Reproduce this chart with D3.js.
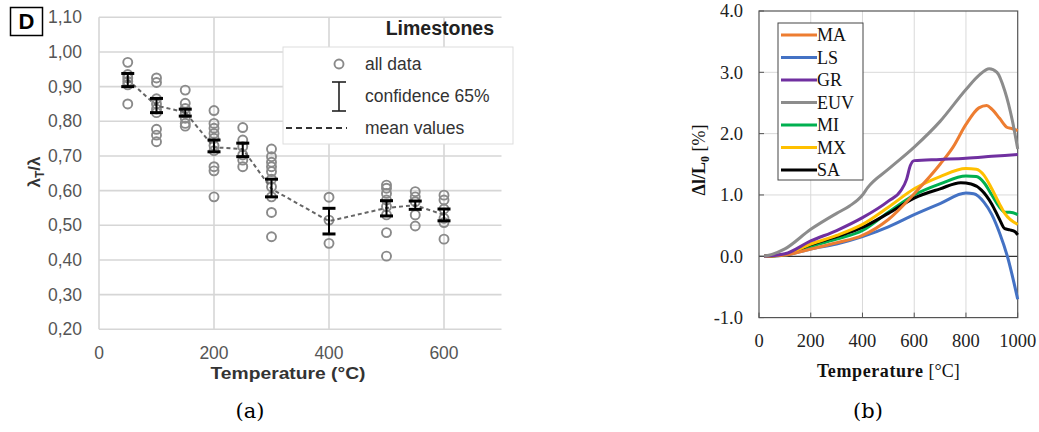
<!DOCTYPE html>
<html><head><meta charset="utf-8">
<script src="https://cdn.jsdelivr.net/npm/d3@7"></script>
<style>body{margin:0;background:#fff}svg{display:block}</style>
</head><body>
<svg id="c" width="1039" height="432"></svg>
<script>
// ---------- Panel (a) data ----------
const tempsA = [50,100,150,200,250,300,400,500,550,600];
const meanA = [0.92,0.845,0.826,0.725,0.72,0.605,0.512,0.55,0.558,0.53];
const ciLowA = [0.900,0.825,0.815,0.712,0.698,0.582,0.475,0.527,0.546,0.513];
const ciHighA = [0.938,0.866,0.835,0.746,0.737,0.633,0.549,0.571,0.570,0.547];
const pts50 = [0.97,0.935,0.925,0.915,0.905,0.85];
const pts100 = [0.925,0.912,0.865,0.85,0.835,0.825,0.777,0.76,0.741];
const pts150 = [0.89,0.852,0.837,0.823,0.809,0.794,0.786];
const pts200 = [0.831,0.794,0.78,0.765,0.751,0.73,0.715,0.669,0.657,0.582];
const pts250 = [0.782,0.746,0.727,0.703,0.688,0.669];
const pts300 = [0.72,0.698,0.682,0.669,0.655,0.633,0.611,0.582,0.537,0.467];
const pts400 = [0.581,0.515,0.448];
const pts500 = [0.616,0.607,0.592,0.573,0.554,0.53,0.479,0.411];
const pts550 = [0.597,0.582,0.568,0.53,0.498];
const pts600 = [0.587,0.573,0.547,0.52,0.508,0.46];
const allPtsA = [pts50,pts100,pts150,pts200,pts250,pts300,pts400,pts500,pts550,pts600];
const yTicksA = [0.2,0.3,0.4,0.5,0.6,0.7,0.8,0.9,1.0,1.1];
const xTicksA = [0,200,400,600];

// ---------- Panel (b) data ----------
const seriesNamesB = ["MA","LS","GR","EUV","MI","MX","SA"];
const seriesColorsB = ["#ed7d31","#4472c4","#7030a0","#8c8c8c","#00b050","#ffc000","#000000"];
const tempMA = [20,100,200,300,400,500,600,700,750,800,850,880,900,930,960,980,1000];
const valMA  = [0,0.02,0.12,0.22,0.34,0.6,1.02,1.5,1.78,2.15,2.42,2.46,2.4,2.25,2.1,2.08,2.05];
const tempLS = [20,100,200,300,400,500,600,700,800,830,870,900,930,960,1000];
const valLS  = [0,0.02,0.12,0.2,0.32,0.48,0.68,0.86,1.03,1.02,0.88,0.68,0.38,0.0,-0.7];
const tempGR = [20,100,200,300,400,500,550,570,585,600,700,800,900,1000];
const valGR  = [0,0.04,0.25,0.42,0.63,0.9,1.08,1.25,1.48,1.56,1.58,1.6,1.63,1.66];
const tempEUV = [20,50,100,200,300,350,400,420,500,600,700,800,850,890,920,950,980,1000];
const valEUV  = [0,0.03,0.12,0.44,0.7,0.82,1.0,1.12,1.42,1.78,2.2,2.72,2.95,3.06,3.0,2.7,2.2,1.75];
const tempMI = [20,100,200,300,400,500,600,700,800,840,870,900,930,950,970,1000];
const valMI  = [0,0.02,0.16,0.28,0.42,0.72,1.0,1.18,1.31,1.3,1.2,1.0,0.8,0.72,0.72,0.68];
const tempMX = [20,100,200,300,400,500,600,700,800,840,870,900,930,950,1000];
const valMX  = [0,0.03,0.2,0.34,0.52,0.8,1.1,1.3,1.43,1.42,1.32,1.1,0.85,0.7,0.52];
const tempSA = [20,100,200,300,400,500,600,700,780,820,860,900,930,950,970,990,1000];
const valSA  = [0,0.03,0.19,0.32,0.47,0.7,0.95,1.1,1.2,1.18,1.08,0.85,0.6,0.45,0.43,0.4,0.35];
const tempsB = [tempMA,tempLS,tempGR,tempEUV,tempMI,tempMX,tempSA];
const valsB = [valMA,valLS,valGR,valEUV,valMI,valMX,valSA];
const yTicksB = [-1,0,1,2,3,4];
const xTicksB = [0,200,400,600,800,1000];

const svg = d3.select("#c");

// =============== Panel (a) ===============
const xA = d3.scaleLinear().domain([0,700]).range([99,501.5]);
const yA = d3.scaleLinear().domain([0.2,1.1]).range([329.3,17.3]);
const gA = svg.append("g").attr("font-family","'Liberation Sans', Arial, sans-serif");
const gridC = "#d6d6d6";
gA.selectAll("line.hg").data(yTicksA).join("line")
  .attr("x1",xA(0)).attr("x2",xA(700)).attr("y1",d=>yA(d)).attr("y2",d=>yA(d))
  .attr("stroke",gridC).attr("stroke-width",1.6);
gA.selectAll("line.vg").data(xTicksA).join("line")
  .attr("x1",d=>xA(d)).attr("x2",d=>xA(d)).attr("y1",yA(0.2)).attr("y2",yA(1.1))
  .attr("stroke",gridC).attr("stroke-width",1.6);
gA.selectAll("text.yt").data(yTicksA).join("text")
  .attr("x",82).attr("y",d=>yA(d)).attr("dy","0.35em").attr("text-anchor","end")
  .attr("font-size",17.5).attr("fill","#555")
  .text(d=>d3.format(".2f")(d).replace(".",","));
gA.selectAll("text.xt").data(xTicksA).join("text")
  .attr("x",d=>xA(d)).attr("y",359).attr("text-anchor","middle")
  .attr("font-size",17.5).attr("fill","#555").text(d=>d);
gA.append("text").attr("x",288).attr("y",379).attr("text-anchor","middle")
  .attr("font-size",17).attr("font-weight","bold").attr("fill","#333")
  .attr("textLength",155).attr("lengthAdjust","spacingAndGlyphs").text("Temperature (°C)");
const yl = gA.append("text").attr("transform","translate(40,172) rotate(-90)")
  .attr("text-anchor","middle").attr("font-size",17).attr("font-weight","bold").attr("fill","#333");
yl.append("tspan").text("λ");
yl.append("tspan").attr("font-size",12).attr("dy",4).text("T");
yl.append("tspan").attr("dy",-4).text("/λ");

const flatPts = [];
allPtsA.forEach((arr,i)=>arr.forEach(v=>flatPts.push([tempsA[i],v])));
gA.selectAll("circle.pt").data(flatPts).join("circle")
  .attr("cx",d=>xA(d[0])).attr("cy",d=>yA(d[1])).attr("r",4.5)
  .attr("fill","none").attr("stroke","#8a8a8a").attr("stroke-width",1.9);
gA.append("path").datum(tempsA.map((t,i)=>[t,meanA[i]]))
  .attr("d",d3.line().x(d=>xA(d[0])).y(d=>yA(d[1])))
  .attr("fill","none").attr("stroke","#666").attr("stroke-width",2).attr("stroke-dasharray","4,3");
const eb = gA.selectAll("g.eb").data(tempsA.map((t,i)=>({t,lo:ciLowA[i],hi:ciHighA[i]}))).join("g");
eb.append("line").attr("x1",d=>xA(d.t)).attr("x2",d=>xA(d.t)).attr("y1",d=>yA(d.lo)).attr("y2",d=>yA(d.hi))
  .attr("stroke","#000").attr("stroke-width",2);
eb.append("line").attr("x1",d=>xA(d.t)-6.5).attr("x2",d=>xA(d.t)+6.5).attr("y1",d=>yA(d.lo)).attr("y2",d=>yA(d.lo))
  .attr("stroke","#000").attr("stroke-width",3);
eb.append("line").attr("x1",d=>xA(d.t)-6.5).attr("x2",d=>xA(d.t)+6.5).attr("y1",d=>yA(d.hi)).attr("y2",d=>yA(d.hi))
  .attr("stroke","#000").attr("stroke-width",3);

gA.append("rect").attr("x",10.5).attr("y",7.5).attr("width",32).attr("height",28)
  .attr("fill","#fff").attr("stroke","#000").attr("stroke-width",1.5);
gA.append("text").attr("x",26.5).attr("y",29).attr("text-anchor","middle")
  .attr("font-size",22).attr("font-weight","bold").text("D");
gA.append("text").attr("x",494).attr("y",35).attr("text-anchor","end")
  .attr("font-size",19.5).attr("font-weight","bold").attr("fill","#222").text("Limestones");
gA.append("rect").attr("x",283).attr("y",47).attr("width",230).attr("height",97)
  .attr("fill","#fff").attr("stroke","#ddd").attr("stroke-width",1);
gA.append("circle").attr("cx",339).attr("cy",64).attr("r",4.5).attr("fill","none")
  .attr("stroke","#8a8a8a").attr("stroke-width",1.9);
gA.append("line").attr("x1",339).attr("x2",339).attr("y1",82).attr("y2",111).attr("stroke","#222").attr("stroke-width",1.6);
gA.append("line").attr("x1",332).attr("x2",346).attr("y1",82).attr("y2",82).attr("stroke","#222").attr("stroke-width",1.6);
gA.append("line").attr("x1",332).attr("x2",346).attr("y1",111).attr("y2",111).attr("stroke","#222").attr("stroke-width",1.6);
gA.append("line").attr("x1",286).attr("x2",347).attr("y1",128).attr("y2",128)
  .attr("stroke","#333").attr("stroke-width",1.8).attr("stroke-dasharray","6,4");
const legA = ["all data","confidence 65%","mean values"];
const legAy = [64,96,128];
gA.selectAll("text.la").data(legA).join("text").attr("x",365).attr("y",(d,i)=>legAy[i]).attr("dy","0.35em")
  .attr("font-size",17.5).attr("fill","#333").text(d=>d);

// =============== Panel (b) ===============
const xB = d3.scaleLinear().domain([0,1000]).range([759,1017.7]);
const yB = d3.scaleLinear().domain([-1,4]).range([317.6,11]);
const gB = svg.append("g").attr("font-family","'Liberation Serif', 'Times New Roman', serif");
gB.selectAll("line.hg").data([1,2,3]).join("line")
  .attr("x1",xB(0)).attr("x2",xB(1000)).attr("y1",d=>yB(d)).attr("y2",d=>yB(d))
  .attr("stroke","#d9d9d9").attr("stroke-width",1);
gB.selectAll("line.vg").data([200,400,600,800]).join("line")
  .attr("x1",d=>xB(d)).attr("x2",d=>xB(d)).attr("y1",yB(-1)).attr("y2",yB(4))
  .attr("stroke","#d9d9d9").attr("stroke-width",1);
gB.append("line").attr("x1",xB(0)).attr("x2",xB(1000)).attr("y1",yB(0)).attr("y2",yB(0))
  .attr("stroke","#333").attr("stroke-width",1.2);
gB.append("rect").attr("x",xB(0)).attr("y",yB(4)).attr("width",xB(1000)-xB(0)).attr("height",yB(-1)-yB(4))
  .attr("fill","none").attr("stroke","#555").attr("stroke-width",1.2);
gB.selectAll("line.yt").data(yTicksB).join("line")
  .attr("x1",xB(0)).attr("x2",xB(0)+5).attr("y1",d=>yB(d)).attr("y2",d=>yB(d)).attr("stroke","#555");
gB.selectAll("line.xt").data(xTicksB).join("line")
  .attr("x1",d=>xB(d)).attr("x2",d=>xB(d)).attr("y1",yB(-1)).attr("y2",yB(-1)-5).attr("stroke","#555");
gB.selectAll("text.ytl").data(yTicksB).join("text")
  .attr("x",743).attr("y",d=>yB(d)).attr("dy","0.35em").attr("text-anchor","end")
  .attr("font-size",18.5).attr("fill","#222").text(d=>d3.format(".1f")(d).replace("−","-"));
gB.selectAll("text.xtl").data(xTicksB).join("text")
  .attr("x",d=>xB(d)).attr("y",347).attr("text-anchor","middle")
  .attr("font-size",18.5).attr("fill","#222").text(d=>d);
const xtB = gB.append("text").attr("x",xB(500)).attr("y",377).attr("text-anchor","middle")
  .attr("font-size",18).attr("fill","#111");
xtB.append("tspan").attr("font-weight","bold").attr("letter-spacing",0.6).text("Temperature ");
xtB.append("tspan").text("[°C]");
const ytB = gB.append("text").attr("transform","translate(705,160) rotate(-90)")
  .attr("text-anchor","middle").attr("font-size",18).attr("fill","#111");
ytB.append("tspan").attr("font-weight","bold").text("Δl/L");
ytB.append("tspan").attr("font-weight","bold").attr("font-size",12).attr("dy",4).text("0");
ytB.append("tspan").attr("dy",-4).text(" [%]");
const lineB = d3.line().x(d=>xB(d[0])).y(d=>yB(d[1])).curve(d3.curveMonotoneX);
const drawOrder = [1,4,6,5,0,2,3];
drawOrder.forEach(i=>{
  gB.append("path").datum(tempsB[i].map((t,j)=>[t,valsB[i][j]]))
    .attr("d",lineB).attr("fill","none").attr("stroke",seriesColorsB[i])
    .attr("stroke-width",3).attr("stroke-linejoin","round");
});
gB.append("rect").attr("x",778).attr("y",23).attr("width",85).attr("height",157)
  .attr("fill","#fff").attr("stroke","#444").attr("stroke-width",1);
const legBy = seriesNamesB.map((d,i)=>35+i*22.5);
seriesNamesB.forEach((n,i)=>{
  gB.append("line").attr("x1",781).attr("x2",817).attr("y1",legBy[i]).attr("y2",legBy[i])
    .attr("stroke",seriesColorsB[i]).attr("stroke-width",3);
  gB.append("text").attr("x",817).attr("y",legBy[i]).attr("dy","0.35em").attr("font-size",18)
    .attr("fill","#111").text(n);
});

svg.append("text").attr("x",250).attr("y",418).attr("text-anchor","middle")
  .attr("font-family","'DejaVu Serif', 'Liberation Serif', serif").attr("font-size",21).text("(a)");
svg.append("text").attr("x",868).attr("y",418).attr("text-anchor","middle")
  .attr("font-family","'DejaVu Serif', 'Liberation Serif', serif").attr("font-size",21).text("(b)");
</script>
</body></html>
